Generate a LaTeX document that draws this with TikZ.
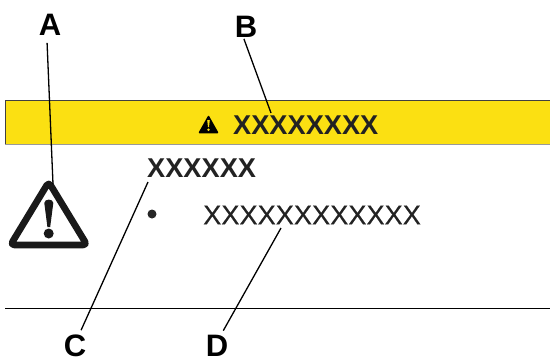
\documentclass[tikz,border=0pt]{standalone}
\usepackage{fontspec}
\setmainfont{Liberation Sans}
\newfontfamily\itemfont[FakeBold=0.3]{Liberation Sans}
\usepackage{xcolor}
\usetikzlibrary{positioning}
\definecolor{bandYellow}{HTML}{FBE012}
\definecolor{textGrey}{HTML}{222222}
\tikzstyle{callout} = [font=\fontsize{31}{31}\selectfont\bfseries, text=black, inner sep=1pt]
\tikzstyle{boldText} = [font=\fontsize{27.2}{27}\selectfont\bfseries, text=textGrey, inner sep=0pt, anchor=west]
\tikzstyle{plainText} = [font=\fontsize{27.2}{27}\selectfont\itemfont, text=textGrey, inner sep=0pt, anchor=west]
\tikzstyle{leader} = [line width=1.3pt, black]
\tikzstyle{rule} = [line width=1pt, black]
\begin{document}
\begin{tikzpicture}[x=1pt, y=-1pt]
    \useasboundingbox (0,0) rectangle (550,359);
    % band
    \fill [bandYellow] (5,100) rectangle (550,144);
    \draw [line width=1.4pt, black!75] (5.5,144) -- (5.5,100.5) -- (550,100.5);
    \draw [line width=1.4pt, black!40] (5,144.5) -- (550,144.5);
    \coordinate (ruleL) at (5,308);
    \coordinate (ruleR) at (550,308);
    \draw [rule] (ruleL) -- (ruleR);
    % small triangle in the band
    \draw [fill=black, line width=1.5pt, line join=round] (208.5,116.5) -- (217.5,132.5) -- (199.5,132.5) -- cycle;
    \fill [bandYellow] (207.2,120) -- (209.8,120) -- (209,127) -- (208,127) -- cycle;
    \fill [bandYellow] (208.5,129.7) circle (1.4);
    % big triangle
    \draw [line width=6.7pt, line join=round, rounded corners=4pt, black!90] (48.7,182) -- (87,245) -- (10.5,245) -- cycle;
    \fill [black!90] (44.3,203) to [out=90, in=90, looseness=1.3] (53.3,203) -- (50.2,227) -- (47.4,227) -- cycle;
    \fill [black!90] (48.7,233.5) circle (5);
    % texts
    \node (title) [boldText] at (233,125) {XXXXXXXX};
    \node (heading) [boldText] at (147,168) {XXXXXX};
    \node (item) [plainText] at (203,215) {XXXXXXXXXXXX};
    \node (dot) [circle, fill=black!85, inner sep=0pt, minimum size=9pt] at (152,214) {};
    % callouts
    \node (A) [callout] at (50,25) {A};
    \node (B) [callout] at (246,27) {B};
    \node (C) [callout] at (75,346) {C};
    \node (D) [callout] at (217,346) {D};
    \coordinate (endA) at (53,184);
    \coordinate (endB) at (271,113);
    \coordinate (endC) at (148,182);
    \coordinate (endD) at (281,228);
    \draw [leader, shorten <=6pt] (A.255) -- (endA);
    \draw [leader] (B.260) -- (endB);
    \draw [leader, shorten <=4pt] (C.70) -- (endC);
    \draw [leader, shorten <=4pt] (D.70) -- (endD);
\end{tikzpicture}
\end{document}
